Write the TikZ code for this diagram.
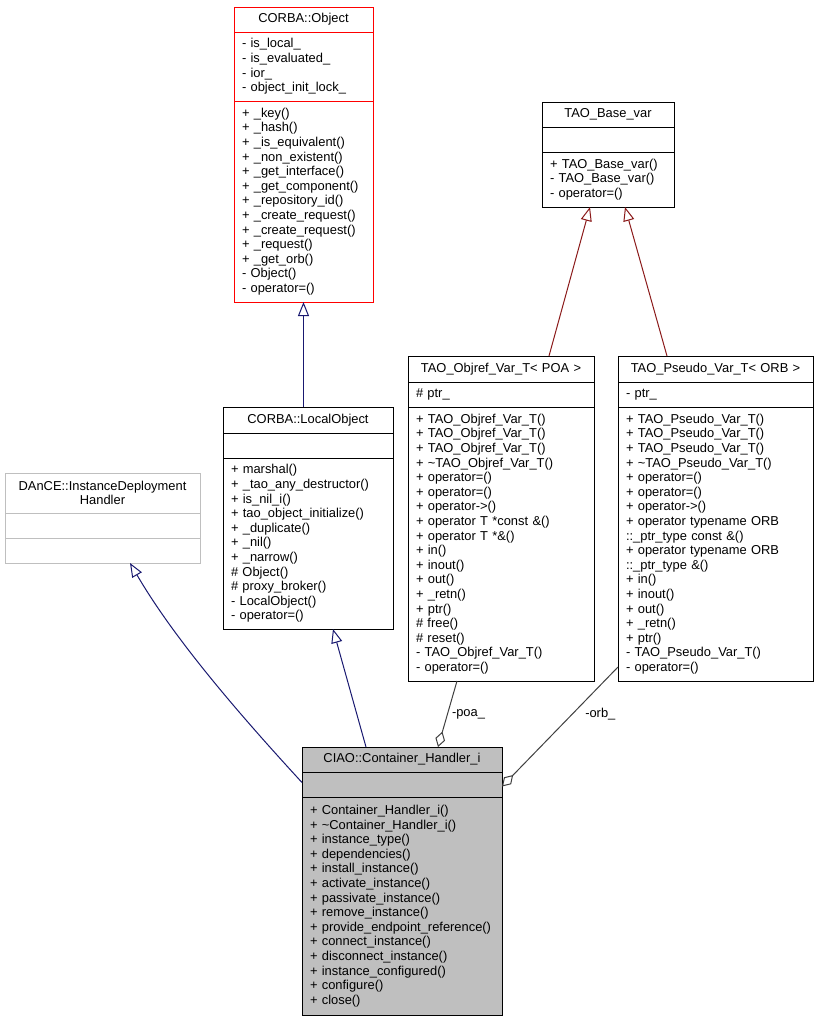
\documentclass[tikz,border=0pt]{standalone}
\usepackage{fontspec}
\setmainfont{Liberation Sans}
\usetikzlibrary{arrows.meta,positioning}
\definecolor{navy}{HTML}{191970}
\definecolor{brick}{HTML}{8B1A1A}
\definecolor{aggr}{HTML}{404040}
\definecolor{lgray}{HTML}{BFBFBF}

\begin{document}
\begin{tikzpicture}[x=1pt, y=-1pt, line width=1pt,
  part/.style={rectangle, draw, fill=white, inner xsep=8pt, inner ysep=0pt, outer sep=0pt, align=left, font=\fontsize{12.9}{14.6}\selectfont},
  head/.style={part, align=center},
  inh/.style={draw=navy, -{Triangle[open, length=14pt, width=11pt]}},
  tmpl/.style={draw=brick, -{Triangle[open, length=14pt, width=11pt]}},
  agg/.style={draw=aggr, -{Diamond[open, length=16pt, width=10pt]}},
  lbl/.style={font=\fontsize{12.9}{14.6}\selectfont, inner sep=2pt}]
  \useasboundingbox (0,0) rectangle (819,1021);

  % CORBA::Object
  \node[head, draw=red, text width=123pt, minimum height=25pt, anchor=north] (objT) at (303.5,7) {CORBA::Object};
  \node[part, draw=red, text width=123pt, minimum height=69pt, below=0pt of objT] (objA) {- is\_local\_\\- is\_evaluated\_\\- ior\_\\- object\_init\_lock\_};
  \node[part, draw=red, text width=123pt, minimum height=201pt, below=0pt of objA] (objM) {+ \_key()\\+ \_hash()\\+ \_is\_equivalent()\\+ \_non\_existent()\\+ \_get\_interface()\\+ \_get\_component()\\+ \_repository\_id()\\+ \_create\_request()\\+ \_create\_request()\\+ \_request()\\+ \_get\_orb()\\- Object()\\- operator=()};

  % TAO_Base_var
  \node[head, text width=116pt, minimum height=25pt, anchor=north] (baseT) at (608,102) {TAO\_Base\_var};
  \node[part, text width=116pt, minimum height=25pt, below=0pt of baseT] (baseA) {};
  \node[part, text width=116pt, minimum height=55pt, below=0pt of baseA] (baseM) {+ TAO\_Base\_var()\\- TAO\_Base\_var()\\- operator=()};

  % TAO_Objref_Var_T< POA >
  \node[head, text width=170pt, minimum height=26pt, anchor=north] (objrefT) at (501,356) {TAO\_Objref\_Var\_T< POA >};
  \node[part, text width=170pt, minimum height=25pt, below=0pt of objrefT] (objrefA) {\# ptr\_};
  \node[part, text width=170pt, minimum height=274pt, below=0pt of objrefA] (objrefM) {+ TAO\_Objref\_Var\_T()\\+ TAO\_Objref\_Var\_T()\\+ TAO\_Objref\_Var\_T()\\+ \textasciitilde TAO\_Objref\_Var\_T()\\+ operator=()\\+ operator=()\\+ operator->()\\+ operator T *const \&()\\+ operator T *\&()\\+ in()\\+ inout()\\+ out()\\+ \_retn()\\+ ptr()\\\# free()\\\# reset()\\- TAO\_Objref\_Var\_T()\\- operator=()};

  % TAO_Pseudo_Var_T< ORB >
  \node[head, text width=179pt, minimum height=26pt, anchor=north] (pseudoT) at (715.5,356) {TAO\_Pseudo\_Var\_T< ORB >};
  \node[part, text width=179pt, minimum height=25pt, below=0pt of pseudoT] (pseudoA) {- ptr\_};
  \node[part, text width=179pt, minimum height=274pt, below=0pt of pseudoA] (pseudoM) {+ TAO\_Pseudo\_Var\_T()\\+ TAO\_Pseudo\_Var\_T()\\+ TAO\_Pseudo\_Var\_T()\\+ \textasciitilde TAO\_Pseudo\_Var\_T()\\+ operator=()\\+ operator=()\\+ operator->()\\+ operator typename ORB\\::\_ptr\_type const \&()\\+ operator typename ORB\\::\_ptr\_type \&()\\+ in()\\+ inout()\\+ out()\\+ \_retn()\\+ ptr()\\- TAO\_Pseudo\_Var\_T()\\- operator=()};

  % CORBA::LocalObject
  \node[head, text width=154pt, minimum height=26pt, anchor=north] (localT) at (308,407) {CORBA::LocalObject};
  \node[part, text width=154pt, minimum height=25pt, below=0pt of localT] (localA) {};
  \node[part, text width=154pt, minimum height=171pt, below=0pt of localA] (localM) {+ marshal()\\+ \_tao\_any\_destructor()\\+ is\_nil\_i()\\+ tao\_object\_initialize()\\+ \_duplicate()\\+ \_nil()\\+ \_narrow()\\\# Object()\\\# proxy\_broker()\\- LocalObject()\\- operator=()};

  % DAnCE::InstanceDeploymentHandler
  \node[head, draw=lgray, text width=179pt, minimum height=40pt, anchor=north] (danceT) at (102.5,473) {DAnCE::InstanceDeployment\\Handler};
  \node[part, draw=lgray, text width=179pt, minimum height=25pt, below=0pt of danceT] (danceA) {};
  \node[part, draw=lgray, text width=179pt, minimum height=25pt, below=0pt of danceA] (danceM) {};

  % CIAO::Container_Handler_i
  \node[head, fill=lgray, text width=184pt, minimum height=25pt, anchor=north] (ciaoT) at (402,747) {CIAO::Container\_Handler\_i};
  \node[part, fill=lgray, text width=184pt, minimum height=25pt, below=0pt of ciaoT] (ciaoA) {};
  \node[part, fill=lgray, text width=184pt, minimum height=218pt, below=0pt of ciaoA] (ciaoM) {+ Container\_Handler\_i()\\+ \textasciitilde Container\_Handler\_i()\\+ instance\_type()\\+ dependencies()\\+ install\_instance()\\+ activate\_instance()\\+ passivate\_instance()\\+ remove\_instance()\\+ provide\_endpoint\_reference()\\+ connect\_instance()\\+ disconnect\_instance()\\+ instance\_configured()\\+ configure()\\+ close()};

  % inheritance
  \draw[inh] (objM.south |- localT.north) -- (objM.south);
  \draw[tmpl] ([xshift=48pt]objrefT.north) -- ([xshift=-18pt]baseM.south);
  \draw[tmpl] ([xshift=-48.5pt]pseudoT.north) -- ([xshift=17pt]baseM.south);
  \draw[inh] ([yshift=2pt]ciaoA.west) .. controls (240,715) and (175,640) .. ([xshift=27.5pt]danceM.south);
  \draw[inh] ([xshift=-36pt]ciaoT.north) -- ([xshift=25pt]localM.south);

  % members
  \draw[agg] ([xshift=-44pt]objrefM.south) -- node[lbl, right, xshift=2pt] {-poa\_} ([xshift=36pt]ciaoT.north);
  \draw[agg] ([yshift=14pt]pseudoM.south west) -- node[lbl, pos=.39, right, xshift=10pt] {-orb\_} ([yshift=-2pt]ciaoA.east);
\end{tikzpicture}
\end{document}
